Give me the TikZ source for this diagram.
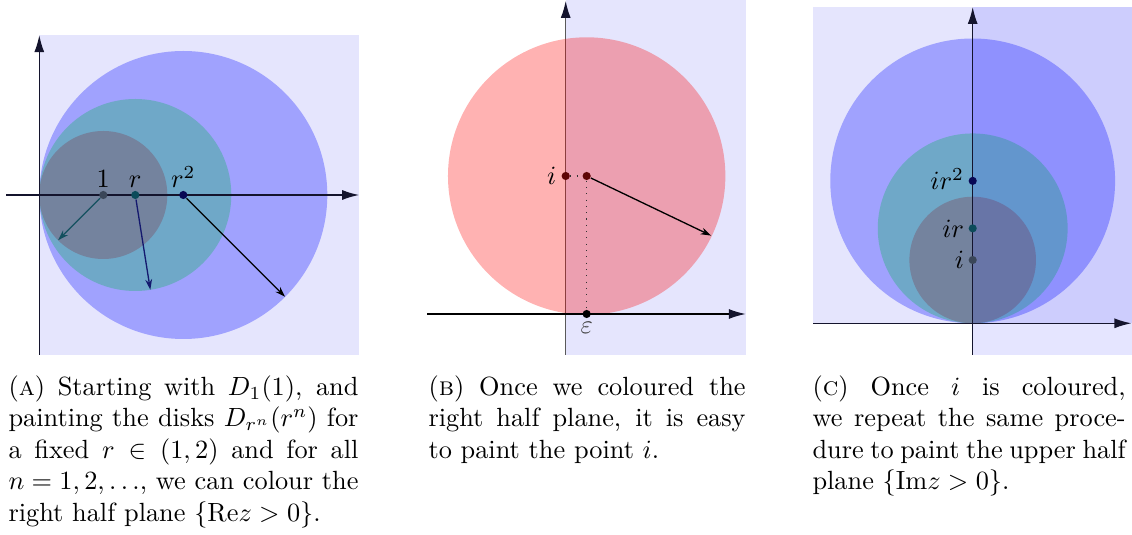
\documentclass[tikz,border=0pt]{standalone}
\usetikzlibrary{arrows.meta}
\definecolor{bgblue}{RGB}{229,229,253}
\definecolor{bigc}{RGB}{160,162,254}
\definecolor{midc}{RGB}{111,168,200}
\definecolor{smallc}{RGB}{116,131,158}
\definecolor{dotone}{RGB}{58,70,88}
\definecolor{dotr}{RGB}{12,75,90}
\definecolor{dotrr}{RGB}{8,8,85}
\definecolor{arrone}{RGB}{20,80,95}
\definecolor{arrtwo}{RGB}{20,25,110}
\definecolor{maroonc}{RGB}{95,5,5}
\definecolor{axiscol}{RGB}{20,20,45}
\newcommand{\capline}[2]{\makebox[#1][s]{#2}}
\begin{document}
\begin{tikzpicture}[x=0.38pt,y=-0.38pt,
  axis/.style={line width=0.6pt, draw=axiscol, -{Latex[length=6.5pt,width=3.8pt,color=axiscol]}},
  radarrow/.style={line width=0.5pt, -{Stealth[length=4pt,width=2.6pt]}},
  dot/.style={circle, inner sep=0pt, minimum size=3.1pt},
  lab/.style={inner sep=0pt},
  captext/.style={anchor=north west, align=left, inner sep=0pt}]
\useasboundingbox (0,0) rectangle (1132,535);

% ---------- Panel A ----------
\begin{scope}[shift={(39.3,195)}, x=24.32pt, y=24.32pt]
  \fill[bgblue] (0,-2.5) rectangle (5,2.5);
  \fill[bigc] (2.25,0) circle (2.25);
  \fill[midc] (1.5,0) circle (1.5);
  \fill[smallc] (1,0) circle (1);
  \draw[axis] (-0.52,0) -- (5,0);
  \draw[axis] (0,-2.5) -- (0,2.5);
  \node[dot, fill=dotone] (a1) at (1,0) {};
  \node[dot, fill=dotr] (ar) at (1.5,0) {};
  \node[dot, fill=dotrr] (arr) at (2.25,0) {};
  \node[lab, anchor=base] (la1) at (1,0.11) {$1$};
  \node[lab, anchor=base] (lar) at (1.5,0.11) {$r$};
  \node[lab, anchor=base] (larr) at (2.25,0.11) {$r^2$};
  \coordinate (ea1) at (0.2929,-0.7071);
  \coordinate (ear) at (1.7347,-1.4815);
  \coordinate (earr) at (3.841,-1.591);
  \draw[radarrow, arrone] (a1) -- (ea1);
  \draw[radarrow, arrtwo] (ar) -- (ear);
  \draw[radarrow, black] (arr) -- (earr);
\end{scope}

% ---------- Panel B ----------
\begin{scope}[shift={(565.7,314)}, x=52.44pt, y=52.44pt]
  \fill[bgblue] (0,-0.297) rectangle (1.306,2.28);
  \draw[axis, draw=black!65] (0,-0.297) -- (0,2.27);
  \fill[red, opacity=0.3] (0.152,1) circle (1.005);
  \draw[axis, draw=black] (-1.005,0) -- (1.306,0);
  \node[dot, fill=maroonc] (bi) at (0,1) {};
  \node[dot, fill=maroonc] (bc) at (0.152,1) {};
  \node[dot, fill=black] (be) at (0.152,0) {};
  \draw[dotted, black!80] (bi) -- (bc);
  \draw[dotted, black!80] (bc) -- (be);
  \coordinate (bend) at (1.054,0.568);
  \draw[radarrow, black] (bc) -- (bend);
  \node[lab, anchor=base east] (lbi) at (-0.065,0.937) {$i$};
  \node[lab, anchor=north, text=black!75] (lbe) at (0.152,-0.058) {$\varepsilon$};
\end{scope}

% ---------- Panel C ----------
\begin{scope}[shift={(972.7,323.3)}, x=24.05pt, y=24.05pt]
  \fill[bgblue] (-2.52,0) rectangle (2.51,5);
  \fill[bigc] (0,2.25) circle (2.25);
  \fill[midc] (0,1.5) circle (1.5);
  \fill[smallc] (0,1) circle (1);
  \fill[blue, opacity=0.1] (0,-0.5) rectangle (2.51,5);
  \draw[axis] (-2.52,0) -- (2.51,0);
  \draw[axis] (0,-0.5) -- (0,5);
  \node[dot, fill=dotone] (ci) at (0,1) {};
  \node[dot, fill=dotr] (cir) at (0,1.5) {};
  \node[dot, fill=dotrr] (cirr) at (0,2.25) {};
  \node[lab, anchor=base east] (lci) at (-0.13,0.863) {$i$};
  \node[lab, anchor=base east] (lcir) at (-0.13,1.363) {$ir$};
  \node[lab, anchor=base east] (lcirr) at (-0.13,2.113) {$ir^2$};
\end{scope}

% ---------- Captions ----------
\node[captext] (capA) at (8,372.6) {%
  \capline{133pt}{\strut(\textsc{a}) Starting with $D_1(1)$, and}\\
  \capline{133pt}{painting the disks $D_{r^n}(r^n)$ for}\\
  \capline{133pt}{a fixed $r\in(1,2)$ and for all}\\
  \capline{133pt}{$n=1,2,\ldots$, we can colour the}\\
  right half plane $\{\mathrm{Re}z>0\}$.};
\node[captext] (capB) at (428,372.6) {%
  \capline{120.5pt}{\strut(\textsc{b}) Once we coloured the}\\
  \capline{120.5pt}{right half plane, it is easy}\\
  to paint the point $i$.};
\node[captext] (capC) at (812,372.6) {%
  \capline{119pt}{\strut(\textsc{c}) Once $i$ is coloured,}\\
  \capline{119pt}{we repeat the same proce-}\\
  \capline{119pt}{dure to paint the upper half}\\
  plane $\{\mathrm{Im}z>0\}$.};
\end{tikzpicture}
\end{document}
